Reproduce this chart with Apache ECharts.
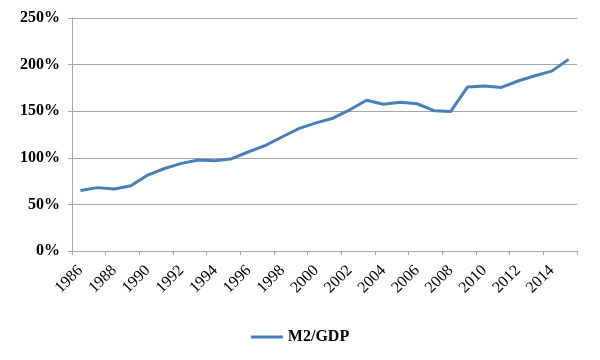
<!DOCTYPE html>
<html>
<head>
<meta charset="utf-8">
<script src="https://cdn.jsdelivr.net/npm/echarts@6/dist/echarts.min.js"></script>
<style>html,body{margin:0;padding:0;background:#fff;}#c{width:600px;height:360px;}</style>
</head>
<body>
<div id="c"></div>
<script>
const years = ['1986','1987','1988','1989','1990','1991','1992','1993','1994','1995','1996','1997','1998','1999','2000','2001','2002','2003','2004','2005','2006','2007','2008','2009','2010','2011','2012','2013','2014','2015'];
const m2gdp = [65,68,66.5,70,81.5,88.5,94,97.6,96.8,99,106.5,113.4,122.6,131.6,137.5,142.5,151.5,161.8,157.4,159.6,158,150.5,149.8,176,177,175.5,182.4,188,193,205.6];
const seriesName = 'M2/GDP';

const chart = echarts.init(document.getElementById('c'));
const serif = '"Liberation Serif", "Times New Roman", serif';
chart.setOption({
  animation: false,
  grid: {left: 72, right: 23, top: 18, bottom: 109},
  legend: {
    bottom: 10, left: 'center',
    data: [{name: seriesName, icon: 'rect'}],
    itemWidth: 32, itemHeight: 3, itemGap: 5,
    textStyle: {fontFamily: serif, fontSize: 16, fontWeight: 'bold', color: '#000'}
  },
  xAxis: {
    type: 'category', data: years, boundaryGap: true,
    axisLine: {lineStyle: {color: '#a6a6a6', width: 1}},
    axisTick: {show: true, interval: 1, length: 4, lineStyle: {color: '#a6a6a6'}},
    axisLabel: {interval: 1, rotate: 45, margin: 17, fontFamily: serif, fontSize: 16, color: '#000'},
    splitLine: {show: false}
  },
  yAxis: {
    type: 'value', min: 0, max: 250, interval: 50,
    axisLine: {show: true, lineStyle: {color: '#a6a6a6', width: 1}},
    axisTick: {show: true, length: 4, lineStyle: {color: '#a6a6a6'}},
    axisLabel: {formatter: '{value}%', margin: 12, fontFamily: serif, fontSize: 16, fontWeight: 'bold', color: '#000'},
    splitLine: {show: true, lineStyle: {color: '#a6a6a6', width: 1}}
  },
  series: [{
    name: seriesName, type: 'line', data: m2gdp,
    showSymbol: false, symbol: 'none',
    lineStyle: {color: '#4a7ebb', width: 3},
    itemStyle: {color: '#4a7ebb'}
  }]
});
</script>
</body>
</html>
